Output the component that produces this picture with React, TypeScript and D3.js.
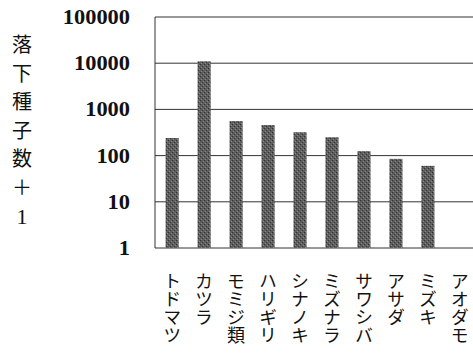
import React from "react";
import * as d3 from "d3";

const species = ["トドマツ", "カツラ", "モミジ類", "ハリギリ", "シナノキ", "ミズナラ", "サワシバ", "アサダ", "ミズキ", "アオダモ"];
const seedsPlusOne = [240, 11000, 560, 460, 320, 250, 125, 85, 60, 1];
const tickValues = [1, 10, 100, 1000, 10000, 100000];
const yTitle = ["落", "下", "種", "子", "数", "＋", "1"];

const W = 473;
const H = 356;
const plot = { left: 155, top: 17, bottom: 248, right: 473 };
const digitWidth = 11.2;

export default function App() {
  const y = d3.scaleLog().domain([1, 100000]).range([plot.bottom, plot.top]);
  const x = d3
    .scaleBand<string>()
    .domain(species)
    .range([156, 156 + 32 * species.length])
    .paddingInner(0.59)
    .paddingOuter(0.3);
  const bw = x.bandwidth();

  return (
    <svg width={W} height={H} style={{ position: "absolute", left: 0, top: 0, background: "#fff" }}>
      <defs>
        <pattern id="grain" width="4" height="4" patternUnits="userSpaceOnUse">
          <rect width="4" height="4" fill="#5e5e5e" />
          <rect x="0" y="0" width="1" height="1" fill="#2e2e2e" />
          <rect x="2" y="2" width="1" height="1" fill="#2e2e2e" />
          <rect x="1" y="3" width="1" height="1" fill="#8a8a8a" />
          <rect x="3" y="1" width="1" height="1" fill="#8a8a8a" />
        </pattern>
      </defs>
      {tickValues.map((t) => {
        const label = String(t);
        return (
          <g key={t}>
            <line x1={plot.left} x2={plot.right} y1={y(t)} y2={y(t)} stroke="#333" strokeWidth={1} />
            <text
              x={130 - label.length * digitWidth}
              y={y(t)}
              dy="0.35em"
              textAnchor="start"
              textLength={label.length * digitWidth}
              lengthAdjust="spacingAndGlyphs"
              fontFamily="Liberation Serif, serif"
              fontWeight="bold"
              fontSize={20}
              fill="#111"
            >
              {label}
            </text>
          </g>
        );
      })}
      <line x1={plot.left} x2={plot.left} y1={plot.top} y2={plot.bottom} stroke="#333" strokeWidth={1} />
      {species.map((s, i) => {
        const v = seedsPlusOne[i];
        const top = y(v);
        return v > 1 ? (
          <rect key={s} x={x(s)} y={top} width={bw} height={plot.bottom - top} fill="url(#grain)" />
        ) : null;
      })}
      {species.map((s) => (
        <text
          key={s}
          x={(x(s) as number) + bw / 2}
          y={272}
          fontFamily="Noto Sans CJK JP, sans-serif"
          fontSize={18}
          fill="#111"
          style={{ writingMode: "vertical-rl" }}
          textAnchor="start"
        >
          {s}
        </text>
      ))}
      {yTitle.map((c, i) => (
        <text
          key={i}
          x={22}
          y={45 + i * 28.5}
          dy="0.35em"
          textAnchor="middle"
          fontFamily={c === "1" ? "Liberation Serif, serif" : "Noto Sans CJK JP, sans-serif"}
          fontSize={c === "1" ? 22 : 20}
          fill="#111"
        >
          {c}
        </text>
      ))}
    </svg>
  );
}
